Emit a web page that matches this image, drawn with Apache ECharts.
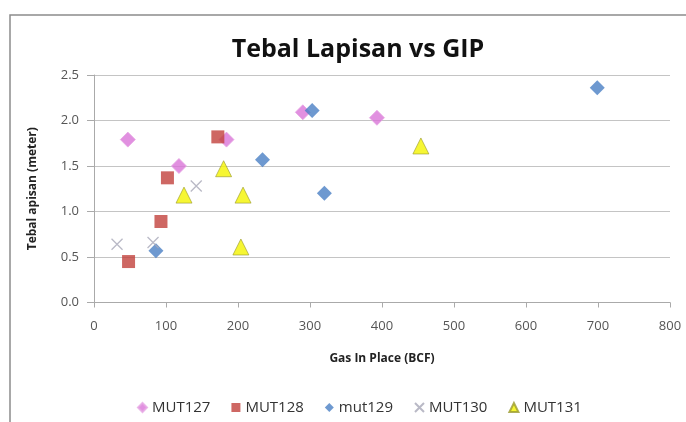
<!DOCTYPE html>
<html>
<head>
<meta charset="utf-8">
<script src="https://cdn.jsdelivr.net/npm/echarts@6/dist/echarts.min.js"></script>
<style>
  html, body { margin: 0; padding: 0; background: #fff; }
  #chart { width: 686px; height: 422px; }
</style>
</head>
<body>
<div id="chart"></div>
<script>
// data: [GIP (BCF), tebal (m)]
var mut127 = [[47, 1.79], [118, 1.50], [184, 1.79], [290, 2.09], [393, 2.03]];
var mut128 = [[48, 0.45], [93, 0.89], [102, 1.37], [172, 1.82]];
var mut129 = [[86, 0.57], [234, 1.57], [303, 2.11], [320, 1.20], [699, 2.36]];
var mut130 = [[32, 0.64], [82, 0.66], [142, 1.28]];
var mut131 = [[125, 1.18], [180, 1.47], [204, 0.61], [207, 1.18], [454, 1.72]];

var seriesNames = ['MUT127', 'MUT128', 'mut129', 'MUT130', 'MUT131'];

var font = 'Open Sans, Liberation Sans, sans-serif';
var crossPath = 'path://M0,0L10,10M10,0L0,10';

var myChart = echarts.init(document.getElementById('chart'));

var option = {
    backgroundColor: '#fff',
    animation: false,
    title: {
        text: 'Tebal Lapisan vs GIP',
        left: 353,
        textAlign: 'center',
        top: 32,
        textStyle: { fontFamily: font, fontSize: 25, fontWeight: 'bold', color: '#111' }
    },
    graphic: [{
        type: 'rect',
        shape: { x: 10, y: 15, width: 690, height: 420 },
        style: { fill: 'none', stroke: '#8c8c8c', lineWidth: 1.5 },
        silent: true
    }],
    legend: {
        data: seriesNames,
        top: 395,
        left: 132,
        itemGap: 21,
        itemWidth: 9,
        itemHeight: 9,
        textStyle: { fontFamily: font, fontSize: 15, color: '#333' }
    },
    grid: { left: 94, right: 16, top: 75, bottom: 119.5 },
    xAxis: {
        type: 'value',
        min: 0,
        max: 800,
        interval: 100,
        name: 'Gas In Place (BCF)',
        nameLocation: 'middle',
        nameGap: 50,
        nameTextStyle: { fontFamily: font, fontSize: 12, fontWeight: 'bold', color: '#222' },
        axisLine: { show: true, lineStyle: { color: '#aaa' } },
        axisTick: { show: true, length: 5, lineStyle: { color: '#aaa' } },
        axisLabel: { fontFamily: font, fontSize: 13, color: '#555', margin: 17 },
        splitLine: { show: false }
    },
    yAxis: {
        type: 'value',
        min: 0,
        max: 2.5,
        interval: 0.5,
        name: 'Tebal apisan (meter)',
        nameLocation: 'middle',
        nameGap: 55,
        nameTextStyle: { fontFamily: font, fontSize: 12, fontWeight: 'bold', color: '#222' },
        axisLine: { show: true, lineStyle: { color: '#aaa' } },
        axisTick: { show: true, length: 7, lineStyle: { color: '#aaa' } },
        axisLabel: {
            fontFamily: font, fontSize: 13, color: '#555', margin: 15,
            formatter: function (v) { return v.toFixed(1); }
        },
        splitLine: { show: true, lineStyle: { color: '#c4c4c4', width: 1.2 } }
    },
    series: [
        {
            name: 'MUT127', type: 'scatter', symbol: 'diamond', symbolSize: 15,
            itemStyle: { color: '#DA74D8', borderColor: '#e6a6e4', borderWidth: 1 },
            data: mut127
        },
        {
            name: 'MUT128', type: 'scatter', symbol: 'rect', symbolSize: 13,
            itemStyle: { color: '#C2413C' },
            data: mut128
        },
        {
            name: 'mut129', type: 'scatter', symbol: 'diamond', symbolSize: 15,
            itemStyle: { color: '#4A80C4' },
            data: mut129
        },
        {
            name: 'MUT130', type: 'scatter', symbol: crossPath, symbolSize: 11,
            itemStyle: { color: 'transparent', borderColor: '#a8a8b8', borderWidth: 1.3 },
            data: mut130
        },
        {
            name: 'MUT131', type: 'scatter', symbol: 'triangle', symbolSize: 16,
            itemStyle: { color: '#F4F400', borderColor: '#9a9a30', borderWidth: 0.8 },
            data: mut131
        }
    ]
};

myChart.setOption(option);
</script>
</body>
</html>
